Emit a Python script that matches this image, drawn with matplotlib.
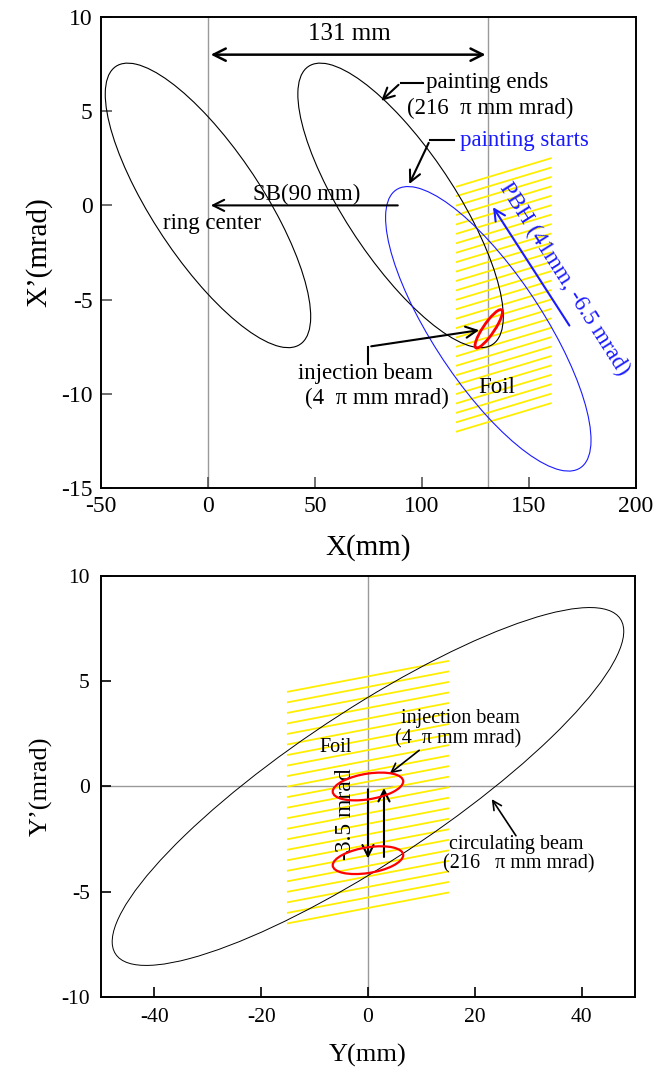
import numpy as np
import matplotlib
matplotlib.use("Agg")
import matplotlib.pyplot as plt
from matplotlib.patches import Ellipse

plt.rcParams['font.family'] = ['Liberation Serif', 'DejaVu Serif']
plt.rcParams['axes.unicode_minus'] = False

# ---------------- data: horizontal (top) ----------------
# beam ellipses: centre (x, x') and extent (x_max, x'_max, x' at x_max)
ring_center = (0.0, 0.0)
ends_center = (90.0, 0.0)
start_center = (131.0, -6.55)
inj_center_top = (131.2, -6.55)
circ_extent_top = (48.0, 7.55, -5.9)
inj_extent_top = (6.4, 1.02, 0.89)
top_vlines = [0, 131]
foil_top_x = (116.3, 160.2)
foil_top_left_y = list(np.linspace(1.0, -12.0, 27))
foil_top_rise = 1.5
top_xticks = [-50, 0, 50, 100, 150, 200]
top_yticks = [-15, -10, -5, 0, 5, 10]

# ---------------- data: vertical (bottom) ----------------
circ_center_bot = (0.0, 0.0)
circ_extent_bot = (47.9, 8.5, 7.37)
inj_centers_bot = [(0.0, 0.0), (0.0, -3.5)]
inj_extent_bot = (6.6, 0.66, 0.24)
foil_bot_x = (-15.0, 15.0)
foil_bot_left_y = list(np.linspace(4.5, -6.5, 23))
foil_bot_rise = 1.46
bot_xticks = [-40, -20, 0, 20, 40]
bot_yticks = [-10, -5, 0, 5, 10]


def beam_ellipse(center, extent, **kw):
    a, b, c = extent
    sig = np.array([[a * a, c * a], [c * a, b * b]])
    vals, vecs = np.linalg.eigh(sig)
    i = np.argmax(vals)
    ang = np.degrees(np.arctan2(vecs[1, i], vecs[0, i]))
    w = 2 * np.sqrt(vals[i])
    h = 2 * np.sqrt(vals[1 - i])
    return Ellipse(center, w, h, angle=ang, fill=False, **kw)


fig = plt.figure(figsize=(6.54, 10.67), dpi=100)
ax1 = fig.add_axes([0.1544, 0.5426, 0.818, 0.4415])
ax2 = fig.add_axes([0.1544, 0.0656, 0.8165, 0.3946])

# ---------- top panel ----------
ax = ax1
ax.set_xlim(-50, 200)
ax.set_ylim(-15, 10)
for xv in top_vlines:
    ax.axvline(xv, color='#9a9a9a', lw=1.0, zorder=1)
for y0 in foil_top_left_y:
    ax.plot(foil_top_x, [y0, y0 + foil_top_rise], color='#ffee00', lw=1.3, zorder=2)
ax.add_patch(beam_ellipse(ring_center, circ_extent_top, ec='black', lw=0.8, zorder=3))
ax.add_patch(beam_ellipse(ends_center, circ_extent_top, ec='black', lw=0.8, zorder=3))
ax.add_patch(beam_ellipse(start_center, circ_extent_top, ec='#1a1aff', lw=0.8, zorder=3))
ax.add_patch(beam_ellipse(inj_center_top, inj_extent_top, ec='red', lw=2.0, zorder=4))

arrow_kw = dict(arrowstyle='->', color='black', lw=1.5, mutation_scale=20)
ax.annotate('', xy=(131, 8.0), xytext=(0, 8.0),
            arrowprops=dict(arrowstyle='<->', color='black', lw=1.8, mutation_scale=22))
ax.text(66, 9.1, '131 mm', fontsize=18, ha='center', va='center')
ax.annotate('', xy=(0, 0), xytext=(90, 0), arrowprops=arrow_kw)
ax.text(46, 0.6, 'SB(90 mm)', fontsize=16.5, ha='center', va='center')
ax.text(2, -0.95, 'ring center', fontsize=16.5, ha='center', va='center')

ax.plot([100.7, 90], [6.5, 6.5], color='black', lw=1.5)
ax.annotate('', xy=(80, 5.45), xytext=(90, 6.5), arrowprops=arrow_kw)
ax.text(102, 6.5, 'painting ends', fontsize=16.5, ha='left', va='center')
ax.text(93, 5.15, '(216  π mm mrad)', fontsize=16.5, ha='left', va='center')

ax.plot([115, 103.7], [3.45, 3.45], color='black', lw=1.5)
ax.annotate('', xy=(93.5, 1.0), xytext=(103.7, 3.45), arrowprops=arrow_kw)
ax.text(117.7, 3.45, 'painting starts', fontsize=16.5, ha='left', va='center', color='#1a1aff')

ax.plot([75, 75], [-8.4, -7.5], color='black', lw=1.5)
ax.annotate('', xy=(128, -6.6), xytext=(75, -7.5), arrowprops=arrow_kw)
ax.text(73.7, -8.9, 'injection beam', fontsize=16.5, ha='center', va='center')
ax.text(78.8, -10.25, '(4  π mm mrad)', fontsize=16.5, ha='center', va='center')
ax.text(135, -9.65, 'Foil', fontsize=16.5, ha='center', va='center')

ax.annotate('', xy=(132.5, 0.03), xytext=(169.6, -6.5),
            arrowprops=dict(arrowstyle='->', color='#1a1aff', lw=1.5, mutation_scale=20))
ax.text(166.5, -3.9, 'PBH (41mm, -6.5 mrad)', fontsize=16.5, color='#1a1aff',
        rotation=-57.5, rotation_mode='anchor', ha='center', va='center')

ax.set_xticks(top_xticks)
ax.set_yticks(top_yticks)
ax.tick_params(direction='in', length=8, width=1.2, labelsize=17, pad=6, color='#555555')
ax.set_xlabel('X(mm)', fontsize=21, labelpad=12)
ax.set_ylabel('X’(mrad)', fontsize=21, labelpad=6)
for s in ax.spines.values():
    s.set_linewidth(1.4)

# ---------- bottom panel ----------
ax = ax2
ax.set_xlim(-50, 50)
ax.set_ylim(-10, 10)
ax.axvline(0, color='#9a9a9a', lw=1.0, zorder=1)
ax.axhline(0, color='#9a9a9a', lw=1.0, zorder=1)
for y0 in foil_bot_left_y:
    ax.plot(foil_bot_x, [y0, y0 + foil_bot_rise], color='#ffee00', lw=1.3, zorder=2)
ax.add_patch(beam_ellipse(circ_center_bot, circ_extent_bot, ec='black', lw=0.7, zorder=3))
for c in inj_centers_bot:
    ax.add_patch(beam_ellipse(c, inj_extent_bot, ec='red', lw=1.6, zorder=4))

ax.annotate('', xy=(0, -3.55), xytext=(0, 0), arrowprops=arrow_kw)
ax.annotate('', xy=(3, 0.06), xytext=(3, -3.48), arrowprops=arrow_kw)
ax.text(-4.3, -1.3, '-3.5 mrad', fontsize=17, rotation=90, ha='center', va='center')
ax.text(-6, 1.85, 'Foil', fontsize=14.5, ha='center', va='center')

ax.annotate('', xy=(3.7, 0.54), xytext=(10, 1.8),
            arrowprops=dict(arrowstyle='->', color='black', lw=1.2, mutation_scale=16))
ax.text(6.1, 3.24, 'injection beam', fontsize=14.5, ha='left', va='center')
ax.text(5.1, 2.26, '(4  π mm mrad)', fontsize=14.5, ha='left', va='center')

ax.annotate('', xy=(22.9, -0.49), xytext=(28, -2.45),
            arrowprops=dict(arrowstyle='->', color='black', lw=1.2, mutation_scale=16))
ax.text(15.1, -2.74, 'circulating beam', fontsize=14.5, ha='left', va='center')
ax.text(14.0, -3.68, '(216   π mm mrad)', fontsize=14.5, ha='left', va='center')

ax.set_xticks(bot_xticks)
ax.set_yticks(bot_yticks)
ax.tick_params(direction='in', length=7, width=1.2, labelsize=15.5, pad=8)
ax.set_xlabel('Y(mm)', fontsize=19, labelpad=12)
ax.set_ylabel('Y’(mrad)', fontsize=19, labelpad=6)
for s in ax.spines.values():
    s.set_linewidth(1.4)

fig.savefig('out.png', dpi=100)
